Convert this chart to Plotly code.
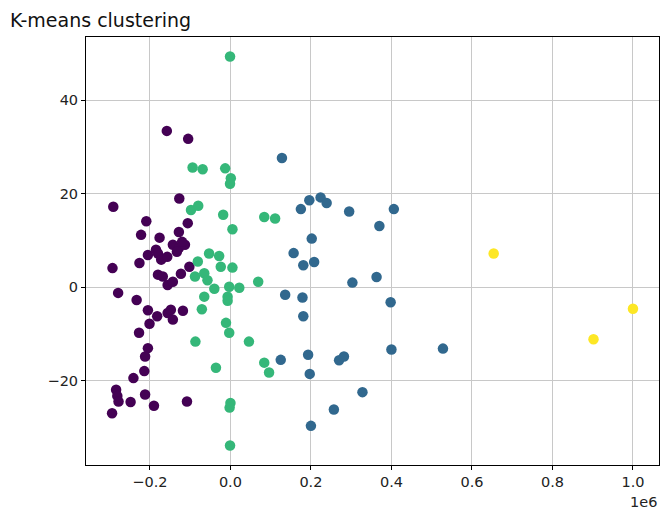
import plotly.graph_objects as go

# x values are in units of 1e6 (axis offset label "1e6")
purple_x = [-0.158, -0.105, -0.127, -0.291, -0.209, -0.106, -0.222, -0.128, -0.176,
            -0.205, -0.185, -0.180, -0.172, -0.157, -0.143, -0.128, -0.113, -0.133, -0.120,
            -0.226, -0.293, -0.180, -0.168, -0.156, -0.143, -0.123, -0.102,
            -0.279, -0.233, -0.205, -0.201, -0.182, -0.156, -0.148, -0.143, -0.118,
            -0.227, -0.205, -0.212, -0.214, -0.241, -0.284, -0.281, -0.278, -0.248,
            -0.212, -0.190, -0.108, -0.294]
purple_y = [33.4, 31.7, 18.95, 17.2, 14.1, 13.7, 11.2, 11.8, 10.6,
            6.9, 8.0, 7.2, 5.9, 6.5, 9.1, 8.4, 9.1, 7.6, 9.7,
            5.2, 4.1, 2.7, 2.3, 0.5, 1.2, 2.9, 4.4,
            -1.2, -2.7, -4.9, -7.8, -6.2, -5.5, -4.8, -6.9, -5.0,
            -9.7, -13.0, -14.8, -17.9, -19.4, -21.9, -23.2, -24.4, -24.5,
            -22.9, -25.3, -24.4, -26.9]

blue_x = [0.128, 0.175, 0.196, 0.224, 0.239, 0.295, 0.406, 0.370, 0.202, 0.157,
          0.208, 0.181, 0.303, 0.363, 0.136, 0.179, 0.398, 0.181, 0.125, 0.193,
          0.270, 0.282, 0.197, 0.400, 0.528, 0.328, 0.257, 0.200]
blue_y = [27.6, 16.7, 18.6, 19.2, 18.0, 16.2, 16.7, 13.1, 10.4, 7.3,
          5.4, 4.7, 1.0, 2.2, -1.6, -2.2, -3.2, -6.2, -15.5, -14.4,
          -15.6, -14.8, -18.5, -13.3, -13.1, -22.4, -26.1, -29.6]

green_x = [-0.001, -0.094, -0.069, -0.013, 0.001, -0.001, -0.098, -0.080, -0.018,
           0.084, 0.111, 0.005, -0.053, -0.028, -0.081, -0.024, 0.005, -0.088,
           -0.065, -0.057, -0.040, -0.003, 0.022, 0.069, -0.065, -0.007, -0.007,
           -0.071, -0.011, -0.003, -0.087, 0.046, 0.084, 0.096, -0.036, 0.000,
           -0.002, -0.001]
green_y = [49.3, 25.6, 25.2, 25.4, 23.3, 22.1, 16.5, 17.4, 15.5,
           15.0, 14.7, 12.4, 7.2, 6.7, 5.5, 4.4, 4.2, 2.3,
           3.0, 1.5, -0.3, 0.1, -0.1, 1.2, -2.0, -2.0, -2.9,
           -4.7, -7.6, -9.7, -11.6, -11.6, -16.1, -18.2, -17.2, -24.7,
           -25.7, -33.8]

yellow_x = [0.654, 0.902, 1.000]
yellow_y = [7.2, -11.1, -4.6]

clusters = [
    (purple_x, purple_y, "#440154"),
    (blue_x, blue_y, "#31688e"),
    (green_x, green_y, "#35b779"),
    (yellow_x, yellow_y, "#fde725"),
]

x_ticks = [-0.2, 0.0, 0.2, 0.4, 0.6, 0.8, 1.0]
x_ticktext = ["\u22120.2", "0.0", "0.2", "0.4", "0.6", "0.8", "1.0"]
y_ticks = [-20, 0, 20, 40]
y_ticktext = ["\u221220", "0", "20", "40"]

fig = go.Figure()
for xs, ys, col in clusters:
    fig.add_trace(go.Scatter(x=xs, y=ys, mode="markers",
                             marker=dict(color=col, size=10.5, line=dict(width=0)),
                             showlegend=False))

font_family = "DejaVu Sans"
fig.update_layout(
    width=660, height=510,
    margin=dict(l=86, r=1, t=37, b=45),
    paper_bgcolor="white", plot_bgcolor="white",
    font=dict(family=font_family, size=14.5, color="#222"),
    title=dict(text="K-means clustering", x=10/660, xanchor="left", xref="container",
               y=1 - 20/510, yanchor="middle", yref="container",
               font=dict(family=font_family, size=19, color="#111")),
)
fig.update_xaxes(range=[-0.3588, 1.0647], tickvals=x_ticks, ticktext=x_ticktext,
                 showgrid=True, gridcolor="#c8c8c8", gridwidth=1.2, zeroline=False,
                 showline=True, linecolor="black", linewidth=1, mirror=True,
                 ticks="outside", ticklen=4, tickcolor="black", automargin=False)
fig.update_yaxes(range=[-37.96, 53.46], tickvals=y_ticks, ticktext=y_ticktext,
                 showgrid=True, gridcolor="#c8c8c8", gridwidth=1.2, zeroline=False,
                 showline=True, linecolor="black", linewidth=1, mirror=True,
                 ticks="outside", ticklen=4, tickcolor="black", automargin=False)
fig.add_annotation(text="1e6", xref="paper", yref="paper", x=1, y=0,
                   xanchor="right", yanchor="middle", yshift=-37, showarrow=False,
                   font=dict(family=font_family, size=14.5, color="#222"))

fig.write_html("out.html", config={"displayModeBar": False},
               post_script="document.body.style.margin='0';")
